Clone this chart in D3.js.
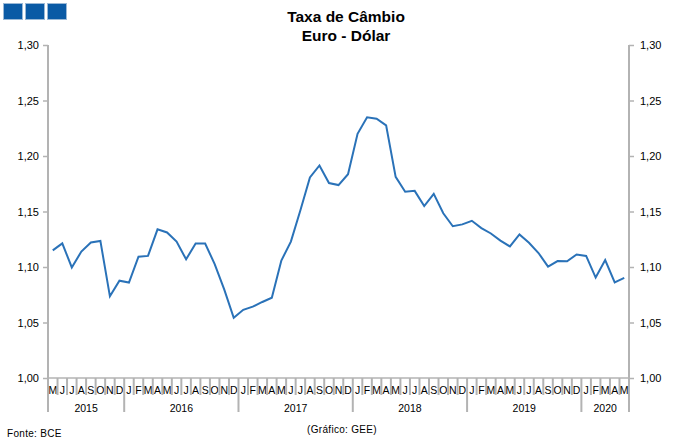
<!DOCTYPE html>
<html><head><meta charset="utf-8">
<script src="https://cdn.jsdelivr.net/npm/d3@7"></script>
<style>body{margin:0;background:#fff}svg{display:block}text{font-family:"Liberation Sans",Arial,sans-serif}</style>
</head><body>
<script>
const years = ["2015","2016","2017","2018","2019","2020"];
const months = ["M","J","J","A","S","O","N","D",
 "J","F","M","A","M","J","J","A","S","O","N","D",
 "J","F","M","A","M","J","J","A","S","O","N","D",
 "J","F","M","A","M","J","J","A","S","O","N","D",
 "J","F","M","A","M","J","J","A","S","O","N","D",
 "J","F","M","A","M"];
const rates = [1.1150,1.1213,1.0996,1.1139,1.1221,1.1235,1.0736,1.0877,
 1.0860,1.1093,1.1100,1.1339,1.1311,1.1229,1.1069,1.1212,1.1212,1.1026,1.0799,1.0543,
 1.0614,1.0643,1.0685,1.0723,1.1058,1.1229,1.1511,1.1807,1.1915,1.1756,1.1738,1.1836,
 1.2200,1.2348,1.2336,1.2276,1.1812,1.1678,1.1686,1.1549,1.1659,1.1484,1.1367,1.1384,
 1.1416,1.1351,1.1302,1.1238,1.1185,1.1293,1.1218,1.1126,1.1004,1.1053,1.1051,1.1113,
 1.1100,1.0905,1.1063,1.0862,1.0902];
const yTicks = [1.00,1.05,1.10,1.15,1.20,1.25,1.30];

const W=679,H=446;
const svg=d3.select("body").append("svg").attr("width",W).attr("height",H);
const L=48,R=629,T=45,B=378;
const x=d3.scaleBand().domain(d3.range(months.length)).range([L,R]);
const y=d3.scaleLinear().domain([1.0,1.3]).range([B,T]);
const axisCol="#b3b3b3";

// logo
[0,1,2].forEach(i=>svg.append("rect").attr("x",3.5+i*22).attr("y",3.5).attr("width",19).attr("height",16)
  .attr("fill","#0a5aa5").attr("stroke","#9ab8d6").attr("stroke-width",1));

// title
svg.append("text").attr("x",346).attr("y",22).attr("text-anchor","middle").attr("font-size",15.5).attr("font-weight","bold").text("Taxa de Câmbio");
svg.append("text").attr("x",346).attr("y",41).attr("text-anchor","middle").attr("font-size",15.5).attr("font-weight","bold").text("Euro - Dólar");

// y axes
const fmt=d=>d3.format(".2f")(d).replace(".",",");
const yl=d3.axisLeft(y).tickValues(yTicks).tickSize(5).tickPadding(4).tickFormat(fmt);
const yr=d3.axisRight(y).tickValues(yTicks).tickSize(5).tickPadding(6).tickFormat(fmt);
const gl=svg.append("g").attr("transform",`translate(${L},0)`).call(yl);
const gr=svg.append("g").attr("transform",`translate(${R},0)`).call(yr);
[gl,gr].forEach(g=>{
  g.select(".domain").remove();
  g.selectAll(".tick line").attr("stroke",axisCol).attr("stroke-width",1.5);
  g.selectAll("text").attr("font-size",11).attr("fill","#000").attr("font-family","Liberation Sans,Arial,sans-serif");
});
svg.append("line").attr("x1",L).attr("x2",L).attr("y1",T).attr("y2",412).attr("stroke",axisCol).attr("stroke-width",2);
svg.append("line").attr("x1",R).attr("x2",R).attr("y1",T).attr("y2",412).attr("stroke",axisCol).attr("stroke-width",2);
svg.append("line").attr("x1",L).attr("x2",R).attr("y1",B).attr("y2",B).attr("stroke",axisCol).attr("stroke-width",1.5);

// category separators and labels
const bw=x.bandwidth();
months.forEach((m,i)=>{
  if(i>0){
    const isYear = m==="J" && months[i-1]==="D";
    svg.append("line").attr("x1",x(i)).attr("x2",x(i)).attr("y1",B).attr("y2",isYear?412:395)
      .attr("stroke",axisCol).attr("stroke-width",2);
  }
  svg.append("text").attr("x",x(i)+bw/2).attr("y",394).attr("text-anchor","middle").attr("font-size",10.5).text(m);
});
// year labels
let start=0;
years.forEach((yv,k)=>{
  let end=start; 
  while(end+1<months.length && !(months[end+1]==="J" && months[end]==="D")) end++;
  const cx=(x(start)+x(end)+bw)/2;
  svg.append("text").attr("x",cx).attr("y",412).attr("text-anchor","middle").attr("font-size",10.5).text(yv);
  start=end+1;
});

// line
const line=d3.line().x((d,i)=>x(i)+bw/2).y(d=>y(d));
svg.append("path").datum(rates).attr("d",line).attr("fill","none").attr("stroke","#2a72b8").attr("stroke-width",2);

// footer
svg.append("text").attr("x",7).attr("y",437).attr("font-size",10).attr("letter-spacing",0.3).text("Fonte: BCE");
svg.append("text").attr("x",342).attr("y",433).attr("text-anchor","middle").attr("font-size",10).attr("letter-spacing",0.3).text("(Gráfico: GEE)");
</script>
</body></html>
